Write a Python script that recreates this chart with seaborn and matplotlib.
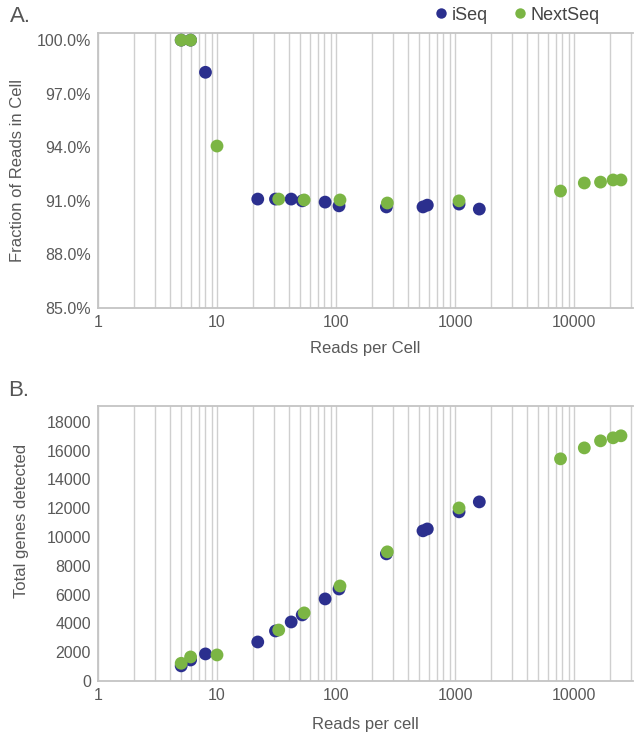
import numpy as np
import pandas as pd
import matplotlib
matplotlib.use("Agg")
import matplotlib.pyplot as plt
from matplotlib.ticker import LogLocator, FixedLocator, FuncFormatter, NullFormatter
from matplotlib.lines import Line2D
import seaborn as sns

# ---- data ----
iseq_x = [5, 6, 8, 22, 31, 42, 52, 81, 106, 265, 538, 585, 1081, 1600]
iseq_frac = [100.0, 100.0, 98.2, 91.1, 91.1, 91.1, 91.0, 90.93, 90.72, 90.66, 90.66, 90.76, 90.82, 90.54]
iseq_genes = [1050, 1460, 1880, 2710, 3475, 4100, 4590, 5700, 6390, 8830, 10430, 10560, 11750, 12440]

nextseq_x = [5, 6, 10, 33, 54, 108, 270, 1081, 7700, 12200, 16700, 21300, 24800]
nextseq_frac = [100.0, 100.0, 94.07, 91.1, 91.05, 91.05, 90.88, 91.0, 91.55, 92.0, 92.05, 92.17, 92.17]
nextseq_genes = [1230, 1670, 1810, 3540, 4730, 6600, 8970, 12020, 15430, 16190, 16680, 16890, 17030]

series = ["iSeq", "NextSeq"]
colors = {"iSeq": "#2B2F8E", "NextSeq": "#7BB544"}
frac_ticks = [85.0, 88.0, 91.0, 94.0, 97.0, 100.0]
gene_ticks = [0, 2000, 4000, 6000, 8000, 10000, 12000, 14000, 16000, 18000]
x_ticks = [1, 10, 100, 1000, 10000]

df = pd.concat([
    pd.DataFrame({"reads": iseq_x, "frac": iseq_frac, "genes": iseq_genes, "series": "iSeq"}),
    pd.DataFrame({"reads": nextseq_x, "frac": nextseq_frac, "genes": nextseq_genes, "series": "NextSeq"}),
], ignore_index=True)

sns.set_theme(style="white")
plt.rcParams["font.family"] = ["Liberation Sans", "DejaVu Sans"]

W, H = 634, 735
fig = plt.figure(figsize=(W / 100, H / 100), dpi=100)

def ax_rect(left, top, right, bottom):
    return [left / W, 1 - bottom / H, (right - left) / W, (bottom - top) / H]

axA = fig.add_axes(ax_rect(98, 33, 633, 308))
axB = fig.add_axes(ax_rect(98, 406, 633, 681))

txt_col = "#595959"
grid_col = "#CFCFCF"
spine_col = "#C4C4C4"

for ax, ycol in [(axA, "frac"), (axB, "genes")]:
    sns.scatterplot(data=df, x="reads", y=ycol, hue="series", palette=colors,
                    hue_order=series, s=85, linewidth=0, ax=ax, legend=False, zorder=3)
    ax.set_xscale("log")
    ax.set_xlim(1, 31300)
    ax.xaxis.set_major_locator(FixedLocator(x_ticks))
    ax.xaxis.set_major_formatter(FuncFormatter(lambda v, p: f"{int(round(v))}"))
    ax.xaxis.set_minor_locator(LogLocator(base=10, subs=np.arange(2, 10), numticks=20))
    ax.xaxis.set_minor_formatter(NullFormatter())
    ax.grid(True, which="both", axis="x", color=grid_col, linewidth=1.0, zorder=0)
    ax.grid(False, axis="y")
    ax.tick_params(axis="both", which="both", length=0, labelsize=11.5, colors=txt_col, pad=5)
    for side in ["left", "bottom", "top"]:
        ax.spines[side].set_color(spine_col)
        ax.spines[side].set_linewidth(1.3)
    ax.spines["right"].set_visible(False)
    ax.set_axisbelow(True)

axA.set_ylim(85, 100.4)
axA.yaxis.set_major_locator(FixedLocator(frac_ticks))
axA.yaxis.set_major_formatter(FuncFormatter(lambda v, p: f"{v:.1f}%"))
axA.set_xlabel("Reads per Cell", fontsize=12, color=txt_col)
axA.xaxis.set_label_coords(0.5, -40 / 275)
axA.set_ylabel("Fraction of Reads in Cell", fontsize=12, color=txt_col)
axA.yaxis.set_label_coords(-80 / 535, 0.5)

axB.set_ylim(0, 19100)
axB.yaxis.set_major_locator(FixedLocator(gene_ticks))
axB.yaxis.set_major_formatter(FuncFormatter(lambda v, p: f"{int(v)}"))
axB.set_xlabel("Reads per cell", fontsize=12, color=txt_col)
axB.xaxis.set_label_coords(0.5, -(724 - 681) / 275, )
axB.xaxis.label.set_va("center")
axB.set_ylabel("Total genes detected", fontsize=12, color=txt_col)
axB.yaxis.set_label_coords(-76 / 535, (681 - 521) / 275)
axB.yaxis.label.set_va("center")
axA.xaxis.label.set_va("center")
axA.yaxis.label.set_va("center")

fig.text(10 / W, 1 - 17 / H, "A.", fontsize=16, color="#555555", va="center", ha="left")
fig.text(8 / W, 1 - 390 / H, "B.", fontsize=16, color="#555555", va="center", ha="left")

handles = [Line2D([0], [0], marker="o", linestyle="", markersize=7.5,
                  markerfacecolor=colors[s], markeredgewidth=0) for s in series]
fig.legend(handles, series, loc="center right", bbox_to_anchor=(600 / W, 1 - 15 / H),
           ncol=2, frameon=False, fontsize=13, handletextpad=0.1, columnspacing=1.3,
           handlelength=1.0, labelcolor="#444444", borderaxespad=0, borderpad=0)

fig.savefig("out.png", dpi=100)
